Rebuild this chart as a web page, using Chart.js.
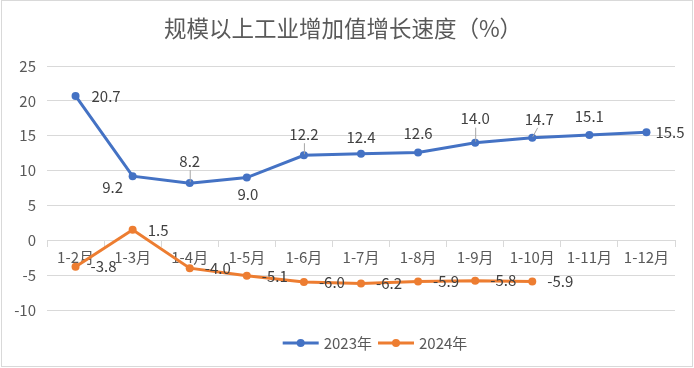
<!DOCTYPE html>
<html>
<head>
<meta charset="utf-8">
<script src="https://cdn.jsdelivr.net/npm/chart.js@4.4.1/dist/chart.umd.min.js"></script>
<style>
html,body{margin:0;padding:0;background:#fff;}
#wrap{width:694px;height:368px;position:relative;}
</style>
</head>
<body>
<div id="wrap"><canvas id="c" width="694" height="368"></canvas></div>
<script>
const title = '规模以上工业增加值增长速度（%）';
const categories = ['1-2月','1-3月','1-4月','1-5月','1-6月','1-7月','1-8月','1-9月','1-10月','1-11月','1-12月'];
const series2023 = [20.7, 9.2, 8.2, 9.0, 12.2, 12.4, 12.6, 14.0, 14.7, 15.1, 15.5];
const series2024 = [-3.8, 1.5, -4.0, -5.1, -6.0, -6.2, -5.9, -5.8, -5.9];
const seriesNames = ['2023年', '2024年'];
const yTicks = [-10, -5, 0, 5, 10, 15, 20, 25];

const FONT = '"Noto Sans CJK SC", "Noto Sans", sans-serif';
const BLUE = '#4472C4', ORANGE = '#ED7D31';

// label placement (style): [dx, dy, align, leader]
const place2023 = [[16,0,'left'],[-20,11,'center'],[0,-22,'center',1],[1,17,'center'],[0,-21,'center',1],[0,-17,'center'],[0,-19,'center'],[0,-24,'center',1],[7,-19,'center',1],[0,-19,'center'],[9,0,'left']];
const place2024 = series2024.map(() => [15,0,'left']);
const placements = [place2023, place2024];

const labelPlugin = {
  id: 'pointLabels',
  afterDatasetsDraw(chart) {
    const ctx = chart.ctx;
    ctx.save();
    ctx.font = '15px ' + FONT;
    ctx.textBaseline = 'middle';
    chart.data.datasets.forEach((ds, di) => {
      const meta = chart.getDatasetMeta(di);
      meta.data.forEach((pt, i) => {
        const v = ds.data[i];
        if (v === null || v === undefined) return;
        const p = placements[di][i];
        if (p[3]) {
          ctx.strokeStyle = '#a6a6a6';
          ctx.lineWidth = 1;
          ctx.beginPath();
          ctx.moveTo(pt.x + p[0] * 0.7 + 0.5, pt.y + p[1] + 9);
          ctx.lineTo(pt.x + 0.5, pt.y - 1);
          ctx.stroke();
        }
        ctx.fillStyle = '#404040';
        ctx.textAlign = p[2];
        ctx.fillText(v.toFixed(1), pt.x + p[0], pt.y + p[1]);
      });
    });
    ctx.restore();
  }
};

const framePlugin = {
  id: 'frame',
  beforeDraw(chart) {
    const ctx = chart.ctx;
    ctx.save();
    ctx.fillStyle = '#ffffff';
    ctx.fillRect(0, 0, chart.width, chart.height);
    ctx.restore();
  },
  afterDraw(chart) {
    const ctx = chart.ctx;
    ctx.save();
    ctx.strokeStyle = '#d9d9d9';
    ctx.lineWidth = 1;
    ctx.strokeRect(1.5, 0.5, 691, 366);
    // title
    ctx.fillStyle = '#595959';
    ctx.font = '22.5px ' + FONT;
    ctx.textAlign = 'center';
    ctx.textBaseline = 'middle';
    ctx.fillText(title, 343, 28);
    // legend
    ctx.font = '15px ' + FONT;
    ctx.textAlign = 'left';
    const colors = [BLUE, ORANGE];
    const lineW = 36, gapText = 5, gapItem = 6;
    let total = 0;
    const widths = seriesNames.map(n => ctx.measureText(n).width);
    widths.forEach((w, i) => { total += lineW + gapText + w + (i ? gapItem : 0); });
    let x = 375 - total / 2;
    const y = 343;
    seriesNames.forEach((n, i) => {
      ctx.strokeStyle = colors[i];
      ctx.lineWidth = 3;
      ctx.beginPath(); ctx.moveTo(x, y); ctx.lineTo(x + lineW, y); ctx.stroke();
      ctx.fillStyle = colors[i];
      ctx.beginPath(); ctx.arc(x + lineW / 2, y, 4, 0, Math.PI * 2); ctx.fill();
      ctx.fillStyle = '#595959';
      ctx.fillText(n, x + lineW + gapText, y);
      x += lineW + gapText + widths[i] + gapItem;
    });
    ctx.restore();
  }
};

new Chart(document.getElementById('c'), {
  type: 'line',
  data: {
    labels: categories,
    datasets: [
      { label: seriesNames[0], data: series2023, borderColor: BLUE, backgroundColor: BLUE,
        borderWidth: 3, pointRadius: 4, pointHoverRadius: 4, pointBackgroundColor: BLUE, pointBorderWidth: 0, tension: 0 },
      { label: seriesNames[1], data: series2024, borderColor: ORANGE, backgroundColor: ORANGE,
        borderWidth: 3, pointRadius: 4, pointHoverRadius: 4, pointBackgroundColor: ORANGE, pointBorderWidth: 0, tension: 0 }
    ]
  },
  options: {
    responsive: false,
    animation: false,
    devicePixelRatio: 1,
    layout: { padding: { top: 66, left: 7, right: 19, bottom: 58 } },
    plugins: { legend: { display: false }, title: { display: false }, tooltip: { enabled: false } },
    scales: {
      x: {
        type: 'category',
        position: { y: 0 },
        offset: true,
        grid: { offset: true, drawOnChartArea: false, drawTicks: true, tickLength: 6, color: '#d9d9d9' },
        border: { display: true, color: '#d9d9d9', width: 1 },
        ticks: { color: '#595959', font: { family: FONT, size: 15 }, padding: 2, maxRotation: 0, autoSkip: false }
      },
      y: {
        min: yTicks[0], max: yTicks[yTicks.length - 1],
        afterFit(scale) { scale.width = 40; },
        afterBuildTicks(scale) { scale.ticks = yTicks.map(v => ({ value: v })); },
        grid: { color: '#d9d9d9', drawTicks: false },
        border: { display: false },
        ticks: { color: '#595959', font: { family: FONT, size: 15 }, padding: 11 }
      }
    }
  },
  plugins: [framePlugin, labelPlugin]
});
</script>
</body>
</html>
